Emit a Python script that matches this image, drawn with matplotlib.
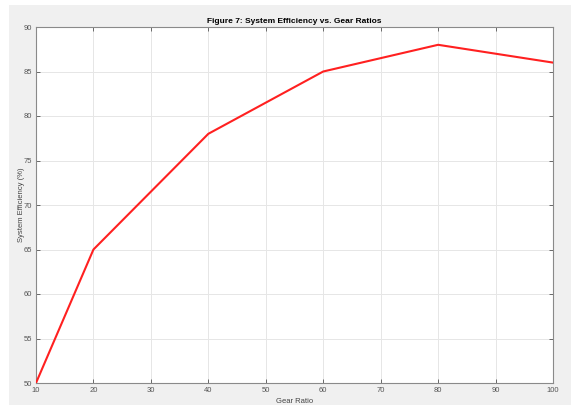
import matplotlib
matplotlib.use("Agg")
import matplotlib.pyplot as plt
from matplotlib.patches import Rectangle

# -----------------------------
# Data
# -----------------------------
gear_ratio = [10, 20, 40, 60, 80, 100]
efficiency = [50, 65, 78, 85, 88, 86]

x_ticks = [10, 20, 30, 40, 50, 60, 70, 80, 90, 100]
y_ticks = [50, 55, 60, 65, 70, 75, 80, 85, 90]

plt.rcParams['font.family'] = ['Liberation Sans', 'DejaVu Sans']

# -----------------------------
# Plot
# -----------------------------
fig = plt.figure(figsize=(5.71, 4.05), dpi=100, facecolor='white')
# grey MATLAB-style figure panel, kept behind the axes
fig.add_artist(Rectangle((9 / 571, 0), 1 - 9 / 571, 400 / 405,
                         transform=fig.transFigure, facecolor='#f0f0f0',
                         edgecolor='none', zorder=-10))

ax = fig.add_axes([36 / 571, 22 / 405, 517 / 571, 356 / 405])
ax.set_zorder(1)
ax.plot(gear_ratio, efficiency, color='#ff2020', linewidth=1.5, zorder=3)

ax.set_xlim(10, 100)
ax.set_ylim(50, 90)
ax.set_xticks(x_ticks)
ax.set_yticks(y_ticks)
ax.grid(True, color='#e6e6e6', linewidth=0.7)
ax.tick_params(direction='in', length=3, width=0.6, colors='#555555',
               labelsize=5.5, top=True, right=True, pad=3)
for side in ax.spines.values():
    side.set_color('#8a8a8a')
    side.set_linewidth(0.8)

ax.set_title("Figure 7: System Efficiency vs. Gear Ratios", fontsize=6,
             fontweight='bold', pad=3)
ax.set_xlabel("Gear Ratio", fontsize=5.5, color='#444444', labelpad=2.5)
ax.set_ylabel("System Efficiency (%)", fontsize=5.5, color='#444444', labelpad=-1)

plt.savefig("out.png", dpi=100, facecolor=fig.get_facecolor())
